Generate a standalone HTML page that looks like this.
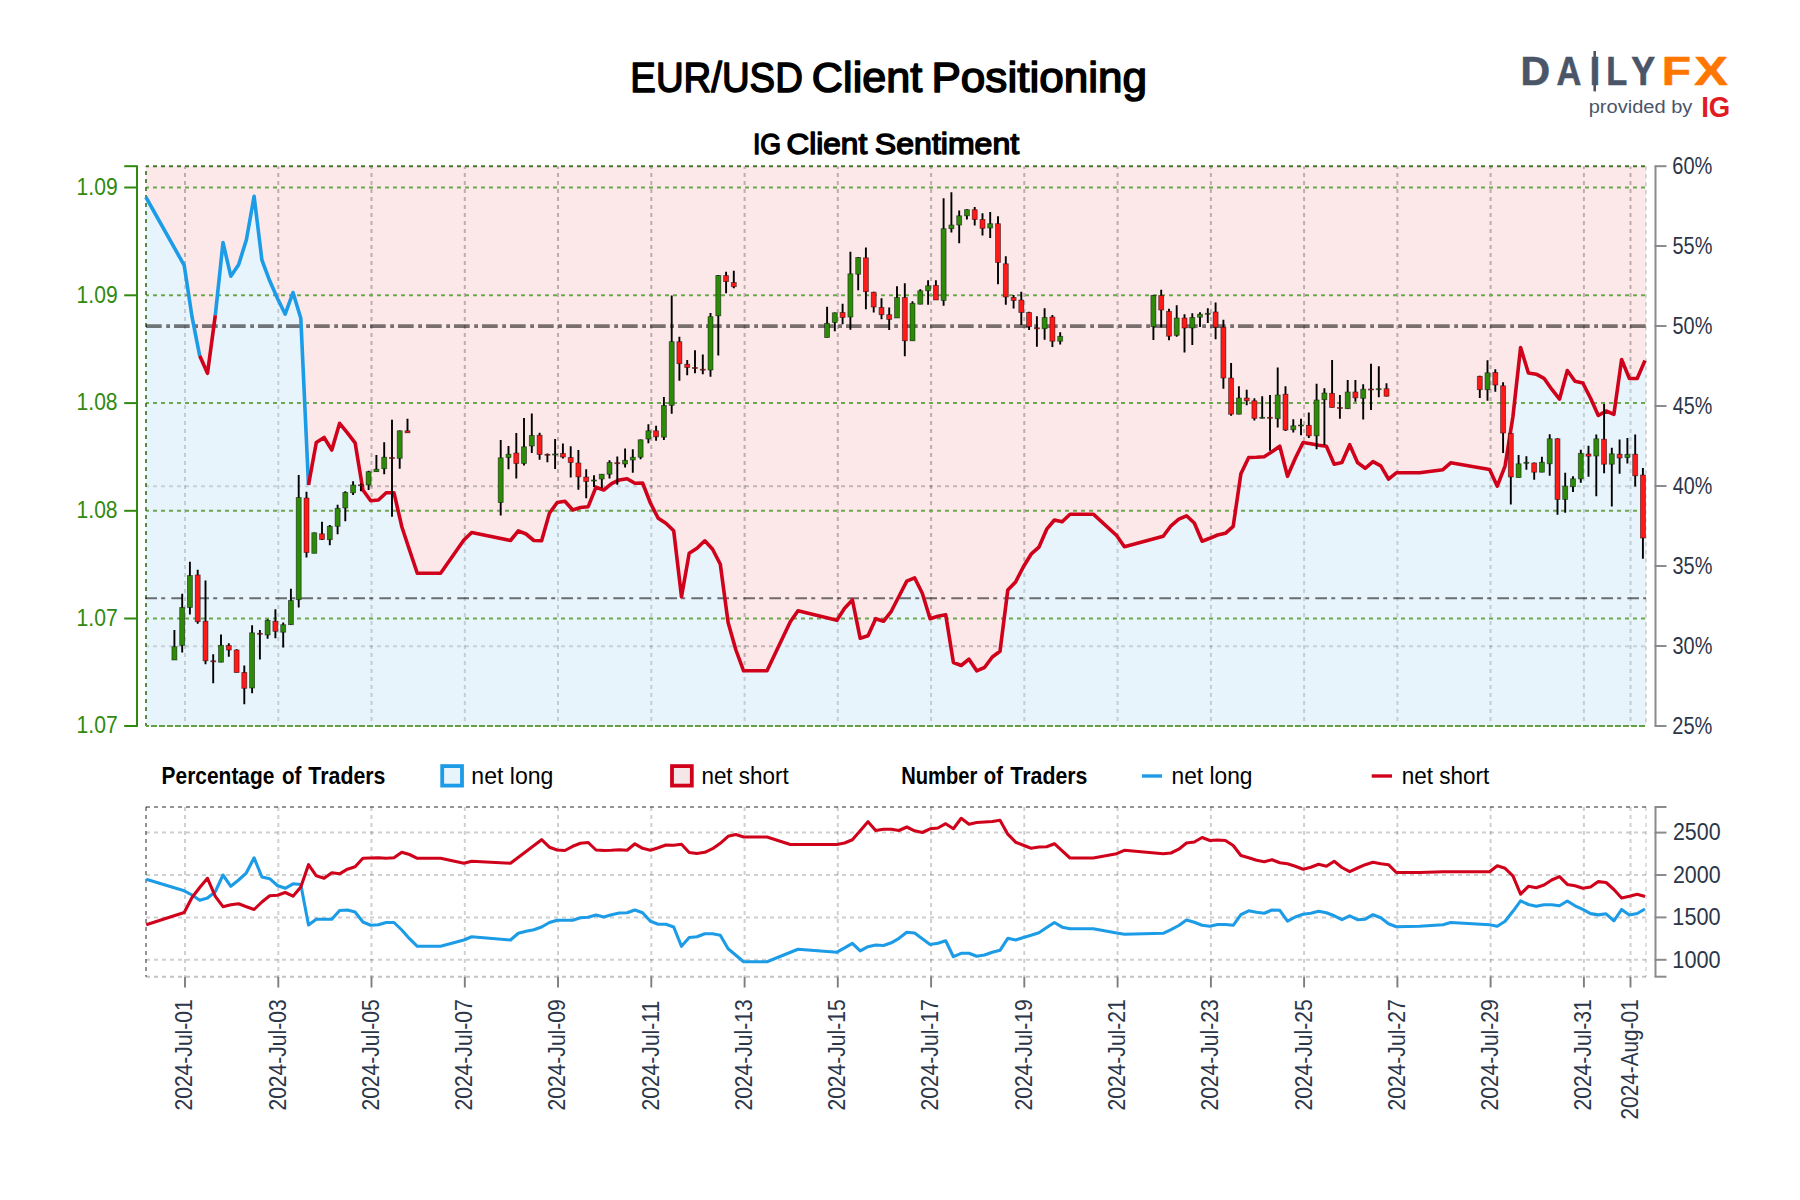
<!DOCTYPE html>
<html lang="en"><head><meta charset="utf-8"><title>EUR/USD Client Positioning</title>
<style>html,body{margin:0;padding:0;background:#fff}body{width:1800px;height:1200px;overflow:hidden}svg{display:block}text{font-family:"Liberation Sans",sans-serif}</style></head><body>
<svg width="1800" height="1200" viewBox="0 0 1800 1200">
<rect width="1800" height="1200" fill="#fff"/>
<text y="92.05" font-size="42.3" fill="#000" stroke="#000" stroke-width="1.5" stroke-linejoin="round"><tspan x="630.34" textLength="172.52" lengthAdjust="spacingAndGlyphs">EUR/USD</tspan> <tspan x="811.87" textLength="110.38" lengthAdjust="spacingAndGlyphs">Client</tspan> <tspan x="931.47" textLength="215.59" lengthAdjust="spacingAndGlyphs">Positioning</tspan></text>
<text y="154.3" font-size="30.2" fill="#000" stroke="#000" stroke-width="1.4" stroke-linejoin="round"><tspan x="752.95" textLength="28.23" lengthAdjust="spacingAndGlyphs">IG</tspan> <tspan x="786.53" textLength="80.67" lengthAdjust="spacingAndGlyphs">Client</tspan> <tspan x="874.89" textLength="144.30" lengthAdjust="spacingAndGlyphs">Sentiment</tspan></text>
<g id="logo">
<text y="85.3" font-size="40.7" font-weight="bold" stroke-width="0.6" stroke-linejoin="round"><tspan x="1520.46" textLength="29.55" lengthAdjust="spacingAndGlyphs" fill="#4a5568" stroke="#4a5568">D</tspan><tspan x="1556.40" textLength="24.86" lengthAdjust="spacingAndGlyphs" fill="#4a5568" stroke="#4a5568">A</tspan><tspan x="1589.38" textLength="10.85" lengthAdjust="spacingAndGlyphs" fill="#4a5568" stroke="#4a5568">I</tspan><tspan x="1606.26" textLength="20.94" lengthAdjust="spacingAndGlyphs" fill="#4a5568" stroke="#4a5568">L</tspan><tspan x="1631.35" textLength="23.86" lengthAdjust="spacingAndGlyphs" fill="#4a5568" stroke="#4a5568">Y</tspan><tspan x="1661.75" textLength="29.25" lengthAdjust="spacingAndGlyphs" fill="#ff7700" stroke="#ff7700">F</tspan><tspan x="1694.33" textLength="33.54" lengthAdjust="spacingAndGlyphs" fill="#ff7700" stroke="#ff7700">X</tspan></text>
<rect x="1593.4" y="51" width="2.6" height="40.4" fill="#4a5568"/>
<text transform="matrix(1.0730 0 0 1 1588.71 112.90)" font-size="18.7" fill="#4a5568">provided by</text>
<text transform="matrix(0.9359 0 0 1 1701.16 116.80)" font-size="29.4" font-weight="bold" fill="#e01b22">IG</text>
</g>
<polygon points="146,166.2 145.8,197 184.2,265.3 192,316.7 199.7,355.8 207.5,373.3 215.3,315.3 223,242.5 230.8,276.2 238.6,264.7 246.4,239.7 254.1,196.3 261.9,260 269.7,280.8 277.4,298.3 285.2,314.2 293,292.5 300.8,318.3 308.5,485 316.3,442.5 324.1,437.5 331.8,450 339.6,423.3 347.4,432.8 355.1,442.8 362.9,490 370.7,500.8 378.4,500 386.2,492.8 394,492.8 401.8,526.7 409.5,550 417.3,573.3 440.6,573.3 463.9,540 471.7,532.5 510.5,540.5 518.3,530.8 526.1,534 533.8,540.5 541.6,540.8 549.4,513.3 557.2,502.5 564.9,501.3 572.7,510 580.5,507.5 588.2,506.7 596,487.2 603.8,490 611.5,483.7 619.3,480 627.1,478.7 634.9,483.3 642.6,483 650.4,503 658.2,518.3 665.9,523.3 673.7,530.8 681.5,596.7 689.2,553.3 697,548.3 704.8,540.8 712.6,549.2 720.3,564.2 728.1,622.5 735.9,650 743.6,670.8 767,670.8 790.3,621.7 798,610.8 836.9,620.3 844.6,608.3 852.4,600 860.2,638.3 868,635.8 875.7,618.7 883.5,621.3 891.3,611.3 899,596.3 906.8,581.2 914.6,577.8 922.3,593.3 930.1,618.7 937.9,616.2 945.7,614.7 953.4,662.5 961.2,665.5 969,659.2 976.7,670.8 984.5,667.5 992.3,657 1000,651.3 1007.8,590 1015.6,582 1023.4,566.7 1031.1,554.2 1038.9,547.2 1046.7,529.2 1054.4,520 1062.2,521.7 1070,514.2 1093.3,514.2 1116.6,535.5 1124.4,546.7 1163.2,536.3 1171,525.8 1178.8,519.2 1186.5,515.8 1194.3,523 1202.1,541.2 1209.8,538.3 1217.6,535 1225.4,533.3 1233.2,526.3 1240.9,473.7 1248.7,457.5 1256.5,457.2 1264.2,456.7 1272,451.7 1279.8,446.2 1287.5,476.3 1295.3,458.3 1303.1,442.5 1310.8,443.7 1318.6,445.3 1326.4,446.2 1334.2,464.2 1341.9,462.5 1349.7,444.7 1357.5,462.5 1365.2,468.3 1373,461.7 1380.8,465.8 1388.5,479.2 1396.3,472.8 1419.6,472.8 1442.9,469.7 1450.7,462.8 1489.6,469.5 1497.3,486.2 1505.1,465.8 1512.9,416.7 1520.6,347.5 1528.4,373 1536.2,374.2 1544,378.3 1551.7,389.2 1559.5,399.2 1567.3,370.5 1575,381.2 1582.8,383 1590.6,398.2 1598.3,415.5 1606.1,411 1613.9,414.3 1621.6,359.5 1629.4,378.5 1637.2,378.5 1645,360.5 1646,360.5 1646,166.2" fill="#fce8e9"/>
<polygon points="146,726 145.8,197 184.2,265.3 192,316.7 199.7,355.8 207.5,373.3 215.3,315.3 223,242.5 230.8,276.2 238.6,264.7 246.4,239.7 254.1,196.3 261.9,260 269.7,280.8 277.4,298.3 285.2,314.2 293,292.5 300.8,318.3 308.5,485 316.3,442.5 324.1,437.5 331.8,450 339.6,423.3 347.4,432.8 355.1,442.8 362.9,490 370.7,500.8 378.4,500 386.2,492.8 394,492.8 401.8,526.7 409.5,550 417.3,573.3 440.6,573.3 463.9,540 471.7,532.5 510.5,540.5 518.3,530.8 526.1,534 533.8,540.5 541.6,540.8 549.4,513.3 557.2,502.5 564.9,501.3 572.7,510 580.5,507.5 588.2,506.7 596,487.2 603.8,490 611.5,483.7 619.3,480 627.1,478.7 634.9,483.3 642.6,483 650.4,503 658.2,518.3 665.9,523.3 673.7,530.8 681.5,596.7 689.2,553.3 697,548.3 704.8,540.8 712.6,549.2 720.3,564.2 728.1,622.5 735.9,650 743.6,670.8 767,670.8 790.3,621.7 798,610.8 836.9,620.3 844.6,608.3 852.4,600 860.2,638.3 868,635.8 875.7,618.7 883.5,621.3 891.3,611.3 899,596.3 906.8,581.2 914.6,577.8 922.3,593.3 930.1,618.7 937.9,616.2 945.7,614.7 953.4,662.5 961.2,665.5 969,659.2 976.7,670.8 984.5,667.5 992.3,657 1000,651.3 1007.8,590 1015.6,582 1023.4,566.7 1031.1,554.2 1038.9,547.2 1046.7,529.2 1054.4,520 1062.2,521.7 1070,514.2 1093.3,514.2 1116.6,535.5 1124.4,546.7 1163.2,536.3 1171,525.8 1178.8,519.2 1186.5,515.8 1194.3,523 1202.1,541.2 1209.8,538.3 1217.6,535 1225.4,533.3 1233.2,526.3 1240.9,473.7 1248.7,457.5 1256.5,457.2 1264.2,456.7 1272,451.7 1279.8,446.2 1287.5,476.3 1295.3,458.3 1303.1,442.5 1310.8,443.7 1318.6,445.3 1326.4,446.2 1334.2,464.2 1341.9,462.5 1349.7,444.7 1357.5,462.5 1365.2,468.3 1373,461.7 1380.8,465.8 1388.5,479.2 1396.3,472.8 1419.6,472.8 1442.9,469.7 1450.7,462.8 1489.6,469.5 1497.3,486.2 1505.1,465.8 1512.9,416.7 1520.6,347.5 1528.4,373 1536.2,374.2 1544,378.3 1551.7,389.2 1559.5,399.2 1567.3,370.5 1575,381.2 1582.8,383 1590.6,398.2 1598.3,415.5 1606.1,411 1613.9,414.3 1621.6,359.5 1629.4,378.5 1637.2,378.5 1645,360.5 1646,360.5 1646,726" fill="#e8f4fc"/>
<g stroke="#000" stroke-opacity="0.25" stroke-width="2" stroke-dasharray="4 4" stroke-dashoffset="1.1" fill="none">
<path d="M185 166.2V726"/>
<path d="M278.3 166.2V726"/>
<path d="M371.5 166.2V726"/>
<path d="M464.8 166.2V726"/>
<path d="M558 166.2V726"/>
<path d="M651.3 166.2V726"/>
<path d="M744.6 166.2V726"/>
<path d="M837.8 166.2V726"/>
<path d="M931.1 166.2V726"/>
<path d="M1024.3 166.2V726"/>
<path d="M1117.6 166.2V726"/>
<path d="M1210.9 166.2V726"/>
<path d="M1304.1 166.2V726"/>
<path d="M1397.4 166.2V726"/>
<path d="M1490.6 166.2V726"/>
<path d="M1583.9 166.2V726"/>
<path d="M1630.5 166.2V726"/>
</g>
<g stroke="#000" stroke-opacity="0.22" stroke-width="2" stroke-dasharray="4 4" stroke-dashoffset="1" fill="none">
<path d="M146 646.2H1646"/>
<path d="M146 486.2H1646"/>
</g>
<polygon points="146,726 145.8,197 184.2,265.3 192,316.7 199.7,355.8 207.5,373.3 215.3,315.3 223,242.5 230.8,276.2 238.6,264.7 246.4,239.7 254.1,196.3 261.9,260 269.7,280.8 277.4,298.3 285.2,314.2 293,292.5 300.8,318.3 308.5,485 316.3,442.5 324.1,437.5 331.8,450 339.6,423.3 347.4,432.8 355.1,442.8 362.9,490 370.7,500.8 378.4,500 386.2,492.8 394,492.8 401.8,526.7 409.5,550 417.3,573.3 440.6,573.3 463.9,540 471.7,532.5 510.5,540.5 518.3,530.8 526.1,534 533.8,540.5 541.6,540.8 549.4,513.3 557.2,502.5 564.9,501.3 572.7,510 580.5,507.5 588.2,506.7 596,487.2 603.8,490 611.5,483.7 619.3,480 627.1,478.7 634.9,483.3 642.6,483 650.4,503 658.2,518.3 665.9,523.3 673.7,530.8 681.5,596.7 689.2,553.3 697,548.3 704.8,540.8 712.6,549.2 720.3,564.2 728.1,622.5 735.9,650 743.6,670.8 767,670.8 790.3,621.7 798,610.8 836.9,620.3 844.6,608.3 852.4,600 860.2,638.3 868,635.8 875.7,618.7 883.5,621.3 891.3,611.3 899,596.3 906.8,581.2 914.6,577.8 922.3,593.3 930.1,618.7 937.9,616.2 945.7,614.7 953.4,662.5 961.2,665.5 969,659.2 976.7,670.8 984.5,667.5 992.3,657 1000,651.3 1007.8,590 1015.6,582 1023.4,566.7 1031.1,554.2 1038.9,547.2 1046.7,529.2 1054.4,520 1062.2,521.7 1070,514.2 1093.3,514.2 1116.6,535.5 1124.4,546.7 1163.2,536.3 1171,525.8 1178.8,519.2 1186.5,515.8 1194.3,523 1202.1,541.2 1209.8,538.3 1217.6,535 1225.4,533.3 1233.2,526.3 1240.9,473.7 1248.7,457.5 1256.5,457.2 1264.2,456.7 1272,451.7 1279.8,446.2 1287.5,476.3 1295.3,458.3 1303.1,442.5 1310.8,443.7 1318.6,445.3 1326.4,446.2 1334.2,464.2 1341.9,462.5 1349.7,444.7 1357.5,462.5 1365.2,468.3 1373,461.7 1380.8,465.8 1388.5,479.2 1396.3,472.8 1419.6,472.8 1442.9,469.7 1450.7,462.8 1489.6,469.5 1497.3,486.2 1505.1,465.8 1512.9,416.7 1520.6,347.5 1528.4,373 1536.2,374.2 1544,378.3 1551.7,389.2 1559.5,399.2 1567.3,370.5 1575,381.2 1582.8,383 1590.6,398.2 1598.3,415.5 1606.1,411 1613.9,414.3 1621.6,359.5 1629.4,378.5 1637.2,378.5 1645,360.5 1646,360.5 1646,726" fill="#e8f4fc" fill-opacity="0.35"/>
<g stroke="#6ea550" stroke-width="2" stroke-dasharray="4 4" stroke-dashoffset="1" fill="none">
<path d="M146 187.5H1646"/>
<path d="M146 295.3H1646"/>
<path d="M146 403.1H1646"/>
<path d="M146 510.8H1646"/>
<path d="M146 618.5H1646"/>
</g>
<path d="M146 166.2H1646" stroke="#47752c" stroke-width="2" stroke-dasharray="4 4" stroke-dashoffset="1" fill="none"/>
<path d="M146 166.2V726" stroke="#4a7d2e" stroke-opacity="0.9" stroke-width="2" stroke-dasharray="4 4" stroke-dashoffset="3.2" fill="none"/>
<path d="M146 726H1646" stroke="#62a040" stroke-width="2" stroke-dasharray="6 2" stroke-dashoffset="3" fill="none"/>
<path d="M1646 166.2V726" stroke="#000" stroke-opacity="0.14" stroke-width="2" stroke-dasharray="4 4" fill="none"/>
<path d="M146 326.1H1646" stroke="#000" stroke-opacity="0.52" stroke-width="3.7" stroke-dasharray="15.7 4.5 3.8 4" fill="none"/>
<path d="M145.3 598.2H1646" stroke="#000" stroke-opacity="0.55" stroke-width="1.9" stroke-dasharray="11.7 4.2 4 6.1" fill="none"/>
<path d="M145.8 197L184.2 265.3L192 316.7L199.7 355.8M215.3 315.3L223 242.5L230.8 276.2L238.6 264.7L246.4 239.7L254.1 196.3L261.9 260L269.7 280.8L277.4 298.3L285.2 314.2L293 292.5L300.8 318.3L308.5 485" stroke="#1c9be6" stroke-width="3.6" fill="none" stroke-linejoin="round" stroke-linecap="butt"/>
<path d="M199.7 355.8L207.5 373.3L215.3 315.3M308.5 485L316.3 442.5L324.1 437.5L331.8 450L339.6 423.3L347.4 432.8L355.1 442.8L362.9 490L370.7 500.8L378.4 500L386.2 492.8L394 492.8L401.8 526.7L409.5 550L417.3 573.3L440.6 573.3L463.9 540L471.7 532.5L510.5 540.5L518.3 530.8L526.1 534L533.8 540.5L541.6 540.8L549.4 513.3L557.2 502.5L564.9 501.3L572.7 510L580.5 507.5L588.2 506.7L596 487.2L603.8 490L611.5 483.7L619.3 480L627.1 478.7L634.9 483.3L642.6 483L650.4 503L658.2 518.3L665.9 523.3L673.7 530.8L681.5 596.7L689.2 553.3L697 548.3L704.8 540.8L712.6 549.2L720.3 564.2L728.1 622.5L735.9 650L743.6 670.8L767 670.8L790.3 621.7L798 610.8L836.9 620.3L844.6 608.3L852.4 600L860.2 638.3L868 635.8L875.7 618.7L883.5 621.3L891.3 611.3L899 596.3L906.8 581.2L914.6 577.8L922.3 593.3L930.1 618.7L937.9 616.2L945.7 614.7L953.4 662.5L961.2 665.5L969 659.2L976.7 670.8L984.5 667.5L992.3 657L1000 651.3L1007.8 590L1015.6 582L1023.4 566.7L1031.1 554.2L1038.9 547.2L1046.7 529.2L1054.4 520L1062.2 521.7L1070 514.2L1093.3 514.2L1116.6 535.5L1124.4 546.7L1163.2 536.3L1171 525.8L1178.8 519.2L1186.5 515.8L1194.3 523L1202.1 541.2L1209.8 538.3L1217.6 535L1225.4 533.3L1233.2 526.3L1240.9 473.7L1248.7 457.5L1256.5 457.2L1264.2 456.7L1272 451.7L1279.8 446.2L1287.5 476.3L1295.3 458.3L1303.1 442.5L1310.8 443.7L1318.6 445.3L1326.4 446.2L1334.2 464.2L1341.9 462.5L1349.7 444.7L1357.5 462.5L1365.2 468.3L1373 461.7L1380.8 465.8L1388.5 479.2L1396.3 472.8L1419.6 472.8L1442.9 469.7L1450.7 462.8L1489.6 469.5L1497.3 486.2L1505.1 465.8L1512.9 416.7L1520.6 347.5L1528.4 373L1536.2 374.2L1544 378.3L1551.7 389.2L1559.5 399.2L1567.3 370.5L1575 381.2L1582.8 383L1590.6 398.2L1598.3 415.5L1606.1 411L1613.9 414.3L1621.6 359.5L1629.4 378.5L1637.2 378.5L1645 360.5" stroke="#d0021b" stroke-width="3.6" fill="none" stroke-linejoin="round" stroke-linecap="butt"/>
<g id="candles">
<path d="M174.4 630V660M182.2 593.7V652.5M189.9 561.7V614.5M197.7 569.7V623.8M205.5 580.5V664.2M213.2 654.2V683.3M221 634.5V662.2M228.8 643.3V656.7M236.6 649.2V672.5M244.3 665.5V704.2M252.1 625.3V693.3M259.9 630V659.5M267.6 619.2V638.7M275.4 609.2V638.3M283.2 622.5V647.5M290.9 588.8V624.7M298.7 475V607.5M306.5 491.7V557.5M314.3 532.5V553.3M322 521.7V540M329.8 525V545.3M337.6 504.7V534.2M345.3 491.3V521.2M353.1 481.3V495M360.9 483.5V491.3M368.6 470.8V490M376.4 455V471.7M384.2 442.2V474.2M392 419.7V516.7M399.7 430.5V468.7M407.5 418.8V432.8M500.7 440V515.5M508.5 446V469.2M516.3 433V478.5M524 418V465.5M531.8 413.5V453M539.6 432.8V459.8M547.4 453.5V462.2M555.1 439V469M562.9 443.5V458.5M570.7 446.3V477.5M578.4 450V489.8M586.2 469.2V498.2M594 475.2V487M601.8 474V488M609.5 460.3V478.5M617.3 456.5V484.8M625.1 448.5V467.5M632.8 449.2V472.7M640.6 439.5V459.2M648.4 424.3V443.2M656.1 425.8V440.8M663.9 397V440M671.7 295.5V413.7M679.4 336.7V380.8M687.2 360V375.3M695 350.3V373.3M702.8 354.5V374.2M710.5 313V376.7M718.3 275V355.5M726.1 271.7V293.3M733.8 270.8V288.3M827.1 306.7V337.5M834.8 312.5V331.2M842.6 303.8V324.2M850.4 251.7V329.7M858.2 257V290.3M865.9 247.5V309.2M873.7 291.7V312.5M881.5 298.3V319.2M889.2 307.5V330M897 286.2V318M904.8 283.3V356.2M912.5 301.3V340.8M920.3 289.2V304.2M928.1 280.3V304.7M935.9 280.3V300M943.6 198.3V305.8M951.4 192.2V232.5M959.2 210.5V243.3M966.9 209.2V219.5M974.7 207V225.5M982.5 213.3V235.5M990.2 212V238M998 216.2V284.2M1005.8 256.3V304.7M1013.6 295V308.5M1021.3 291.7V325M1029.1 311.7V330M1036.9 316.3V346.7M1044.6 308.3V339.7M1052.4 315V347M1060.2 332.2V344.5M1153.4 295V340M1161.2 289.7V327.5M1169 308.7V340.3M1176.7 305.3V336.7M1184.5 314.2V352.5M1192.3 313.3V345M1200 312.2V327M1207.8 308.3V323M1215.6 302.5V339.2M1223.4 319.7V388.7M1231.1 363V415.8M1238.9 386.2V414.2M1246.7 389.7V405.3M1254.4 398.3V420.5M1262.2 396.3V418.5M1270 395V450.8M1277.7 367.5V427.5M1285.5 386.3V431M1293.3 419.2V432.5M1301 418.8V435.3M1308.8 412.6V438M1316.6 383.8V449.2M1324.4 388.3V445M1332.1 360V407.5M1339.9 395V418.7M1347.7 380V408.7M1355.4 380V401.7M1363.2 384.2V419.5M1371 363.8V410M1378.8 366.2V397.2M1386.5 383.3V396.5M1479.8 375.8V398M1487.5 360.3V400.8M1495.3 369.2V391.7M1503.1 382.2V453M1510.8 433V504.5M1518.6 455V477.5M1526.4 456.3V469.7M1534.2 462.5V479.7M1541.9 456.7V472.2M1549.7 434.2V475.8M1557.5 438.3V514.7M1565.2 472.8V512.8M1573 476.3V492M1580.8 449.7V482.8M1588.5 445.8V476.7M1596.3 434.4V496.2M1604.1 404V473.3M1611.8 447.8V506.5M1619.6 439.5V473.7M1627.4 438V463.5M1635.2 434.5V486.5M1642.9 468V558.7" stroke="#000" stroke-width="1.9" fill="none"/>
<g fill="#2e8b0a" stroke="#000" stroke-opacity="0.55" stroke-width="0.8"><rect x="171.9" y="646.7" width="5" height="13.3"/><rect x="179.7" y="607.5" width="5" height="37.8"/><rect x="187.4" y="575.5" width="5" height="32"/><rect x="218.5" y="645.3" width="5" height="16.9"/><rect x="249.6" y="632.8" width="5" height="55.2"/><rect x="265.1" y="620.3" width="5" height="14.7"/><rect x="280.7" y="624.7" width="5" height="7.5"/><rect x="288.4" y="600.5" width="5" height="24.2"/><rect x="296.2" y="497.5" width="5" height="102.2"/><rect x="311.8" y="532.8" width="5" height="20.5"/><rect x="327.3" y="526.3" width="5" height="13.4"/><rect x="335.1" y="508.3" width="5" height="18"/><rect x="342.8" y="492.5" width="5" height="15.5"/><rect x="350.6" y="485" width="5" height="7.8"/><rect x="366.1" y="471.7" width="5" height="13.3"/><rect x="373.9" y="469.2" width="5" height="2.5"/><rect x="381.7" y="457.2" width="5" height="11.5"/><rect x="397.2" y="430.8" width="5" height="27.5"/><rect x="498.2" y="457.8" width="5" height="44.7"/><rect x="506" y="454.2" width="5" height="3.3"/><rect x="521.5" y="446.8" width="5" height="16.7"/><rect x="529.3" y="435.5" width="5" height="10.5"/><rect x="552.6" y="454" width="5" height="1"/><rect x="591.5" y="480" width="5" height="1"/><rect x="599.2" y="474.2" width="5" height="4.8"/><rect x="607" y="462.5" width="5" height="11.7"/><rect x="622.6" y="460.3" width="5" height="3.7"/><rect x="630.3" y="457.2" width="5" height="2.8"/><rect x="638.1" y="439.8" width="5" height="17.4"/><rect x="645.9" y="430.8" width="5" height="8.2"/><rect x="661.4" y="405.4" width="5" height="31.8"/><rect x="669.2" y="341.7" width="5" height="63.6"/><rect x="708" y="316.7" width="5" height="53.3"/><rect x="715.8" y="275.5" width="5" height="40.3"/><rect x="824.6" y="323.3" width="5" height="14.2"/><rect x="832.3" y="312.8" width="5" height="9.7"/><rect x="847.9" y="273.8" width="5" height="43.2"/><rect x="855.7" y="257.5" width="5" height="16.7"/><rect x="894.5" y="297.5" width="5" height="20.5"/><rect x="910" y="303.3" width="5" height="37.5"/><rect x="917.8" y="290.8" width="5" height="13.4"/><rect x="925.6" y="285.8" width="5" height="5"/><rect x="941.1" y="228.7" width="5" height="71.8"/><rect x="948.9" y="225" width="5" height="3.7"/><rect x="956.7" y="215.8" width="5" height="9.2"/><rect x="964.4" y="209.7" width="5" height="6.1"/><rect x="987.7" y="223.7" width="5" height="4.3"/><rect x="1042.1" y="317.5" width="5" height="11.2"/><rect x="1057.7" y="336.3" width="5" height="4.9"/><rect x="1150.9" y="295.3" width="5" height="31.4"/><rect x="1174.2" y="318" width="5" height="17.3"/><rect x="1189.8" y="317.5" width="5" height="10.5"/><rect x="1197.5" y="314.2" width="5" height="3"/><rect x="1205.3" y="313.3" width="5" height="1"/><rect x="1236.4" y="398" width="5" height="16.2"/><rect x="1259.7" y="417.3" width="5" height="1"/><rect x="1275.2" y="395" width="5" height="23.7"/><rect x="1290.8" y="425.8" width="5" height="3.9"/><rect x="1298.5" y="425" width="5" height="1"/><rect x="1314.1" y="400" width="5" height="35.8"/><rect x="1321.9" y="393" width="5" height="6.7"/><rect x="1345.2" y="392" width="5" height="16.7"/><rect x="1360.7" y="389.2" width="5" height="9.1"/><rect x="1376.2" y="388.7" width="5" height="1"/><rect x="1485" y="372.8" width="5" height="16.9"/><rect x="1516.1" y="463.8" width="5" height="13.7"/><rect x="1523.9" y="462.3" width="5" height="1"/><rect x="1539.4" y="462.2" width="5" height="10"/><rect x="1547.2" y="438.8" width="5" height="25"/><rect x="1562.7" y="486.1" width="5" height="13.3"/><rect x="1570.5" y="478.8" width="5" height="7.9"/><rect x="1578.3" y="453.3" width="5" height="25.6"/><rect x="1593.8" y="438.8" width="5" height="17.2"/><rect x="1609.3" y="453.8" width="5" height="10.4"/><rect x="1624.9" y="454.5" width="5" height="3"/></g>
<g fill="#ff1a1a" stroke="#000" stroke-opacity="0.55" stroke-width="0.8"><rect x="195.2" y="575" width="5" height="46.7"/><rect x="203" y="621.2" width="5" height="39.6"/><rect x="210.8" y="660.8" width="5" height="1"/><rect x="226.3" y="645.5" width="5" height="4.5"/><rect x="234.1" y="650" width="5" height="22.5"/><rect x="241.8" y="672.5" width="5" height="15.8"/><rect x="257.4" y="633.3" width="5" height="1"/><rect x="272.9" y="621.2" width="5" height="10.1"/><rect x="304" y="498" width="5" height="54.5"/><rect x="319.5" y="533.8" width="5" height="5.7"/><rect x="358.4" y="484.8" width="5" height="1"/><rect x="389.5" y="457.5" width="5" height="1"/><rect x="405" y="430.8" width="5" height="2"/><rect x="513.8" y="453" width="5" height="10.5"/><rect x="537.1" y="435.2" width="5" height="19.3"/><rect x="544.9" y="454.3" width="5" height="1"/><rect x="560.4" y="453.5" width="5" height="3.5"/><rect x="568.2" y="457.5" width="5" height="5"/><rect x="575.9" y="463" width="5" height="13.8"/><rect x="583.7" y="477" width="5" height="4.5"/><rect x="614.8" y="462.7" width="5" height="1"/><rect x="653.6" y="430.8" width="5" height="6"/><rect x="676.9" y="341.7" width="5" height="22"/><rect x="684.7" y="364.2" width="5" height="3.3"/><rect x="692.5" y="367.5" width="5" height="1"/><rect x="700.3" y="369.2" width="5" height="1"/><rect x="723.6" y="275.6" width="5" height="6"/><rect x="731.3" y="282.5" width="5" height="4.2"/><rect x="840.1" y="312.5" width="5" height="5"/><rect x="863.4" y="257.8" width="5" height="33.9"/><rect x="871.2" y="292.2" width="5" height="14.8"/><rect x="879" y="307.5" width="5" height="7.2"/><rect x="886.7" y="314.7" width="5" height="4.8"/><rect x="902.3" y="297.5" width="5" height="43.3"/><rect x="933.4" y="285.3" width="5" height="14.7"/><rect x="972.2" y="209.7" width="5" height="9.8"/><rect x="980" y="219.5" width="5" height="8.8"/><rect x="995.5" y="223.7" width="5" height="38.8"/><rect x="1003.3" y="263.8" width="5" height="33.2"/><rect x="1011.1" y="297.5" width="5" height="3"/><rect x="1018.8" y="300" width="5" height="12.5"/><rect x="1026.6" y="312.5" width="5" height="14.2"/><rect x="1034.4" y="327.8" width="5" height="1"/><rect x="1049.9" y="317" width="5" height="24.2"/><rect x="1158.7" y="295.5" width="5" height="14.5"/><rect x="1166.5" y="311.3" width="5" height="24.9"/><rect x="1182" y="318" width="5" height="10"/><rect x="1213.1" y="312" width="5" height="15.2"/><rect x="1220.9" y="327.2" width="5" height="50.8"/><rect x="1228.6" y="378" width="5" height="36.2"/><rect x="1244.2" y="398" width="5" height="2.8"/><rect x="1251.9" y="400.8" width="5" height="17.5"/><rect x="1267.5" y="417.3" width="5" height="1"/><rect x="1283" y="394.2" width="5" height="35.8"/><rect x="1306.3" y="425.3" width="5" height="10.5"/><rect x="1329.6" y="393.3" width="5" height="14.2"/><rect x="1337.4" y="407.5" width="5" height="1"/><rect x="1352.9" y="392" width="5" height="5.8"/><rect x="1368.5" y="389" width="5" height="1"/><rect x="1384" y="388.7" width="5" height="7.5"/><rect x="1477.3" y="376.3" width="5" height="13.4"/><rect x="1492.8" y="372.5" width="5" height="12.5"/><rect x="1500.6" y="385.8" width="5" height="47.2"/><rect x="1508.3" y="433.3" width="5" height="43.7"/><rect x="1531.7" y="463" width="5" height="9.2"/><rect x="1555" y="438.8" width="5" height="60.7"/><rect x="1586" y="454" width="5" height="2.2"/><rect x="1601.6" y="439.2" width="5" height="25"/><rect x="1617.1" y="454.2" width="5" height="3.8"/><rect x="1632.7" y="454.2" width="5" height="21.6"/><rect x="1640.4" y="475" width="5" height="63"/></g>
</g>
<g stroke="#2f8a0f" stroke-width="2" fill="none">
<path d="M137 166.2V726"/>
<path d="M124.2 166.2H137.9"/>
<path d="M124.2 187.5H137.9"/>
<path d="M124.2 295.3H137.9"/>
<path d="M124.2 403.1H137.9"/>
<path d="M124.2 510.8H137.9"/>
<path d="M124.2 618.5H137.9"/>
<path d="M124.2 726H137.9"/>
</g>
<text transform="matrix(0.8912 0 0 1 76.59 194.80)" font-size="23.7" fill="#2f8a0f">1.09</text>
<text transform="matrix(0.8912 0 0 1 76.59 302.60)" font-size="23.7" fill="#2f8a0f">1.09</text>
<text transform="matrix(0.8893 0 0 1 76.59 410.40)" font-size="23.7" fill="#2f8a0f">1.08</text>
<text transform="matrix(0.8893 0 0 1 76.59 518.10)" font-size="23.7" fill="#2f8a0f">1.08</text>
<text transform="matrix(0.8927 0 0 1 76.59 625.80)" font-size="23.7" fill="#2f8a0f">1.07</text>
<text transform="matrix(0.8927 0 0 1 76.59 733.30)" font-size="23.7" fill="#2f8a0f">1.07</text>
<g stroke="#8a8a8f" stroke-width="2" fill="none">
<path d="M1655.5 166.2V726"/>
<path d="M1654.5 726H1666.5"/>
<path d="M1654.5 646H1666.5"/>
<path d="M1654.5 566H1666.5"/>
<path d="M1654.5 486H1666.5"/>
<path d="M1654.5 406H1666.5"/>
<path d="M1654.5 326H1666.5"/>
<path d="M1654.5 246H1666.5"/>
<path d="M1654.5 166.2H1666.5"/>
</g>
<text transform="matrix(0.8459 0 0 1 1672.29 733.80)" font-size="23.7" fill="#2b3648">25%</text>
<text transform="matrix(0.8405 0 0 1 1672.54 653.80)" font-size="23.7" fill="#2b3648">30%</text>
<text transform="matrix(0.8405 0 0 1 1672.54 573.80)" font-size="23.7" fill="#2b3648">35%</text>
<text transform="matrix(0.8339 0 0 1 1672.85 493.80)" font-size="23.7" fill="#2b3648">40%</text>
<text transform="matrix(0.8339 0 0 1 1672.85 413.80)" font-size="23.7" fill="#2b3648">45%</text>
<text transform="matrix(0.8413 0 0 1 1672.50 333.80)" font-size="23.7" fill="#2b3648">50%</text>
<text transform="matrix(0.8413 0 0 1 1672.50 253.80)" font-size="23.7" fill="#2b3648">55%</text>
<text transform="matrix(0.8461 0 0 1 1672.28 173.80)" font-size="23.7" fill="#2b3648">60%</text>
<text y="784.3" font-size="23.8" font-weight="bold" fill="#000"><tspan x="161.60" textLength="112.81" lengthAdjust="spacingAndGlyphs">Percentage</tspan> <tspan x="281.89" textLength="19.47" lengthAdjust="spacingAndGlyphs">of</tspan> <tspan x="308.36" textLength="77.10" lengthAdjust="spacingAndGlyphs">Traders</tspan></text>
<rect x="442.2" y="766.1" width="19.8" height="19.5" fill="#e8f4fc" stroke="#1c9be6" stroke-width="3.8"/>
<text transform="matrix(0.9603 0 0 1 471.37 784.40)" font-size="24" fill="#000">net long</text>
<rect x="672" y="766.1" width="19.8" height="19.5" fill="#f5e6e7" stroke="#d0021b" stroke-width="3.8"/>
<text transform="matrix(0.9343 0 0 1 701.41 784.40)" font-size="24" fill="#000">net short</text>
<text y="784.3" font-size="23.8" font-weight="bold" fill="#000"><tspan x="901.25" textLength="76.05" lengthAdjust="spacingAndGlyphs">Number</tspan> <tspan x="983.81" textLength="19.15" lengthAdjust="spacingAndGlyphs">of</tspan> <tspan x="1010.36" textLength="77.10" lengthAdjust="spacingAndGlyphs">Traders</tspan></text>
<path d="M1142 776H1162" stroke="#1c9be6" stroke-width="3.4"/>
<text transform="matrix(0.9481 0 0 1 1171.49 784.40)" font-size="24" fill="#000">net long</text>
<path d="M1371.7 776H1392" stroke="#d0021b" stroke-width="3.4"/>
<text transform="matrix(0.9387 0 0 1 1401.70 784.40)" font-size="24" fill="#000">net short</text>
<g stroke="#000" stroke-opacity="0.19" stroke-width="2" stroke-dasharray="4 4" fill="none">
<path d="M185 807V976.7"/>
<path d="M278.3 807V976.7"/>
<path d="M371.5 807V976.7"/>
<path d="M464.8 807V976.7"/>
<path d="M558 807V976.7"/>
<path d="M651.3 807V976.7"/>
<path d="M744.6 807V976.7"/>
<path d="M837.8 807V976.7"/>
<path d="M931.1 807V976.7"/>
<path d="M1024.3 807V976.7"/>
<path d="M1117.6 807V976.7"/>
<path d="M1210.9 807V976.7"/>
<path d="M1304.1 807V976.7"/>
<path d="M1397.4 807V976.7"/>
<path d="M1490.6 807V976.7"/>
<path d="M1583.9 807V976.7"/>
<path d="M1630.5 807V976.7"/>
<path d="M146 832.6H1646"/>
<path d="M146 875H1646"/>
<path d="M146 917.4H1646"/>
<path d="M146 959.8H1646"/>
</g>
<path d="M1646 807V976.7" stroke="#000" stroke-opacity="0.13" stroke-width="2" stroke-dasharray="4 4" fill="none"/>
<g stroke="#000" stroke-opacity="0.42" stroke-width="2" stroke-dasharray="4 4" fill="none">
<path d="M146 807H1646"/><path d="M146 807V976.7"/>
</g>
<path d="M146 976.7H1646" stroke="#000" stroke-opacity="0.24" stroke-width="2" stroke-dasharray="4 4" fill="none"/>
<path d="M146.2 879.2L184.2 890.8L192 895L199.7 900.3L207.5 898L215.3 891.7L223 875L230.8 886.3L238.6 880L246.4 872.8L254.1 857.8L261.9 877L269.7 878.7L277.4 885.5L285.2 888.3L293 883.8L300.8 884.5L308.5 925L316.3 919.2L324.1 919.3L331.8 919.3L339.6 910.5L347.4 910L355.1 912L362.9 922L370.7 925.3L378.4 924.7L386.2 922.5L394 922.5L401.8 930L409.5 938.7L417.3 946.3L440.6 946.3L463.9 940L471.7 936.7L510.5 940L518.3 933.3L526.1 931.3L533.8 929.7L541.6 927L549.4 922.5L557.2 920.3L564.9 920.3L572.7 920.3L580.5 917.8L588.2 917.2L596 915L603.8 917L611.5 914.7L619.3 913L627.1 912.8L634.9 910L642.6 912.8L650.4 921.3L658.2 924.2L665.9 924.2L673.7 927L681.5 946.3L689.2 937.5L697 936.7L704.8 933.7L712.6 933.8L720.3 935.3L728.1 948.8L735.9 955.3L743.6 961.7L767 961.7L798 949.3L836.9 952.2L844.6 947.8L852.4 943.3L860.2 950.8L868 946.7L875.7 945L883.5 945.5L891.3 942.8L899 938.3L906.8 932.2L914.6 933L922.3 938.7L930.1 944.5L937.9 943.3L945.7 940.8L953.4 956.7L961.2 953.3L969 953.3L976.7 956.3L984.5 955L992.3 952.2L1000 950.3L1007.8 938.3L1015.6 940L1023.4 937.5L1031.1 935.3L1038.9 932.8L1046.7 927.5L1054.4 922.5L1062.2 927.2L1070 928.8L1093.3 928.8L1116.6 933L1124.4 934.3L1163.2 933.3L1171 929.7L1178.8 925.5L1186.5 920L1194.3 922.2L1202.1 925.3L1209.8 926.3L1217.6 924.5L1225.4 924.5L1233.2 925.3L1240.9 914.7L1248.7 910.8L1256.5 912.2L1264.2 913.3L1272 910L1279.8 910.3L1287.5 921.2L1295.3 917L1303.1 914.2L1310.8 913.3L1318.6 911.3L1326.4 912.8L1334.2 915.8L1341.9 919.7L1349.7 915.8L1357.5 919.7L1365.2 919.2L1373 914.7L1380.8 917.8L1388.5 923.7L1396.3 926.7L1419.6 926.3L1442.9 924.7L1450.7 922.5L1489.6 924.7L1497.3 926.2L1505.1 921.3L1512.9 911.3L1520.6 900.8L1528.4 904.5L1536.2 906.2L1544 904.7L1551.7 904.7L1559.5 905.8L1567.3 901L1575 905.8L1582.8 909.4L1590.6 913.6L1598.3 914.9L1606.1 913.8L1613.9 920.8L1621.6 909.5L1629.4 915L1637.2 913.5L1645 909" stroke="#1c9be6" stroke-width="3.1" fill="none" stroke-linejoin="round"/>
<path d="M146.2 924.7L184.2 912.5L192 897.5L199.7 887.5L207.5 878.3L215.3 896.3L223 906.7L230.8 904.7L238.6 903.7L246.4 906.7L254.1 909.5L261.9 902L269.7 895.8L277.4 895.3L285.2 892.5L293 896.2L300.8 887L308.5 864.7L316.3 875.8L324.1 878.3L331.8 872.8L339.6 873.8L347.4 869.2L355.1 866.7L362.9 858.3L370.7 858L378.4 857.7L386.2 858.2L394 857.8L401.8 852.2L409.5 854.5L417.3 858.3L440.6 858.3L463.9 863.3L471.7 861.3L510.5 863.3L541.6 839.7L549.4 847.2L557.2 850L564.9 850.5L572.7 846.3L580.5 843.3L588.2 842.5L596 850L603.8 850.5L611.5 850.3L619.3 849.7L627.1 850.2L634.9 843.8L642.6 848.3L650.4 850.3L658.2 847.8L665.9 845L673.7 845.3L681.5 844.2L689.2 852.5L697 853.5L704.8 852.3L712.6 848.7L720.3 843.3L728.1 836.3L735.9 834.5L743.6 837L767 837L790.3 844.5L836.9 844.5L844.6 843L852.4 839.7L860.2 830.8L868 821.7L875.7 830.5L883.5 829.2L891.3 829.3L899 830.5L906.8 827L914.6 830.8L922.3 832.5L930.1 828.8L937.9 828L945.7 823.7L953.4 828.7L961.2 818.3L969 824.2L976.7 822.5L984.5 822L992.3 821.5L1000 820.3L1007.8 834.2L1015.6 842.2L1023.4 845.3L1031.1 848.3L1038.9 847L1046.7 846.8L1054.4 843.7L1062.2 850.8L1070 858L1093.3 858L1116.6 853.7L1124.4 850.3L1163.2 853.7L1171 853L1178.8 849.2L1186.5 843L1194.3 842L1202.1 837.5L1209.8 840.5L1217.6 840L1225.4 840.5L1233.2 845.5L1240.9 855.5L1248.7 857.8L1256.5 860.3L1264.2 861.7L1272 859.7L1279.8 862.8L1287.5 863.7L1295.3 866.3L1303.1 869.2L1310.8 867.2L1318.6 864.2L1326.4 866.2L1334.2 861.3L1341.9 867.5L1349.7 871.7L1357.5 868L1365.2 864.7L1373 862.3L1380.8 863.8L1388.5 864.7L1396.3 872.5L1419.6 872.5L1442.9 871.7L1450.7 871.8L1489.6 871.8L1497.3 865.8L1505.1 868.3L1512.9 875.8L1520.6 894.2L1528.4 886.3L1536.2 887.8L1544 885L1551.7 880L1559.5 876.6L1567.3 884.4L1575 885.8L1582.8 888.2L1590.6 887L1598.3 881.6L1606.1 882.5L1613.9 889.5L1621.6 898L1629.4 896.3L1637.2 894.2L1645 896.5" stroke="#d0021b" stroke-width="3.1" fill="none" stroke-linejoin="round"/>
<g stroke="#7d7d7d" stroke-width="1.9" fill="none">
<path d="M185 976.7V987.5"/>
<path d="M278.3 976.7V987.5"/>
<path d="M371.5 976.7V987.5"/>
<path d="M464.8 976.7V987.5"/>
<path d="M558 976.7V987.5"/>
<path d="M651.3 976.7V987.5"/>
<path d="M744.6 976.7V987.5"/>
<path d="M837.8 976.7V987.5"/>
<path d="M931.1 976.7V987.5"/>
<path d="M1024.3 976.7V987.5"/>
<path d="M1117.6 976.7V987.5"/>
<path d="M1210.9 976.7V987.5"/>
<path d="M1304.1 976.7V987.5"/>
<path d="M1397.4 976.7V987.5"/>
<path d="M1490.6 976.7V987.5"/>
<path d="M1583.9 976.7V987.5"/>
<path d="M1630.5 976.7V987.5"/>
</g>
<text transform="matrix(0 -0.8788 1 0 192.40 1110.56)" font-size="24" fill="#2b3648">2024-Jul-01</text>
<text transform="matrix(0 -0.8780 1 0 285.66 1110.56)" font-size="24" fill="#2b3648">2024-Jul-03</text>
<text transform="matrix(0 -0.8777 1 0 378.92 1110.56)" font-size="24" fill="#2b3648">2024-Jul-05</text>
<text transform="matrix(0 -0.8791 1 0 472.18 1110.56)" font-size="24" fill="#2b3648">2024-Jul-07</text>
<text transform="matrix(0 -0.8786 1 0 565.44 1110.56)" font-size="24" fill="#2b3648">2024-Jul-09</text>
<text transform="matrix(0 -0.8788 1 0 658.70 1110.56)" font-size="24" fill="#2b3648">2024-Jul-11</text>
<text transform="matrix(0 -0.8780 1 0 751.96 1110.56)" font-size="24" fill="#2b3648">2024-Jul-13</text>
<text transform="matrix(0 -0.8777 1 0 845.22 1110.56)" font-size="24" fill="#2b3648">2024-Jul-15</text>
<text transform="matrix(0 -0.8791 1 0 938.48 1110.56)" font-size="24" fill="#2b3648">2024-Jul-17</text>
<text transform="matrix(0 -0.8786 1 0 1031.74 1110.56)" font-size="24" fill="#2b3648">2024-Jul-19</text>
<text transform="matrix(0 -0.8788 1 0 1125.00 1110.56)" font-size="24" fill="#2b3648">2024-Jul-21</text>
<text transform="matrix(0 -0.8780 1 0 1218.26 1110.56)" font-size="24" fill="#2b3648">2024-Jul-23</text>
<text transform="matrix(0 -0.8777 1 0 1311.52 1110.56)" font-size="24" fill="#2b3648">2024-Jul-25</text>
<text transform="matrix(0 -0.8791 1 0 1404.78 1110.56)" font-size="24" fill="#2b3648">2024-Jul-27</text>
<text transform="matrix(0 -0.8786 1 0 1498.04 1110.56)" font-size="24" fill="#2b3648">2024-Jul-29</text>
<text transform="matrix(0 -0.8788 1 0 1591.30 1110.56)" font-size="24" fill="#2b3648">2024-Jul-31</text>
<text transform="matrix(0 -0.8666 1 0 1637.93 1119.45)" font-size="24" fill="#2b3648">2024-Aug-01</text>
<g stroke="#8a8a8f" stroke-width="2" fill="none">
<path d="M1655.5 807V976.7"/>
<path d="M1654.5 807H1666.5"/>
<path d="M1654.5 832.6H1666.5"/>
<path d="M1654.5 875H1666.5"/>
<path d="M1654.5 917.4H1666.5"/>
<path d="M1654.5 959.8H1666.5"/>
<path d="M1654.5 976.7H1666.5"/>
</g>
<text transform="matrix(0.9050 0 0 1 1672.92 840.30)" font-size="23.7" fill="#2b3648">2500</text>
<text transform="matrix(0.9050 0 0 1 1672.92 882.70)" font-size="23.7" fill="#2b3648">2000</text>
<text transform="matrix(0.9161 0 0 1 1672.35 925.10)" font-size="23.7" fill="#2b3648">1500</text>
<text transform="matrix(0.9161 0 0 1 1672.35 967.50)" font-size="23.7" fill="#2b3648">1000</text>
</svg></body></html>
